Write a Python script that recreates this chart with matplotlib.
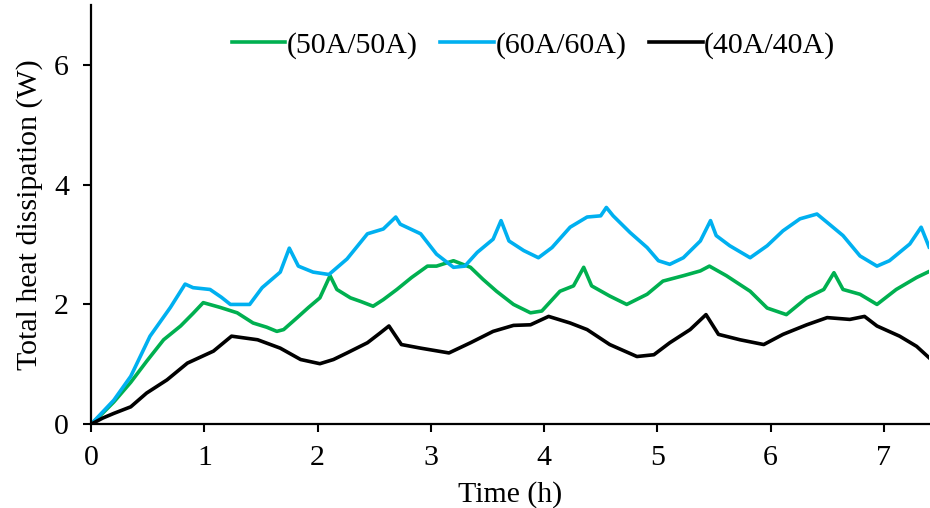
import matplotlib.pyplot as plt

# ==============================================================================
# DATA
# ==============================================================================
T_GREEN = [0, 0.1, 0.2, 0.35, 0.49, 0.64, 0.79, 0.9, 0.99, 1.14, 1.29, 1.43, 1.55,
           1.64, 1.70, 1.82, 1.92, 2.02, 2.11, 2.17, 2.29, 2.38, 2.49, 2.58, 2.70,
           2.83, 2.97, 3.05, 3.20, 3.35, 3.46, 3.58, 3.73, 3.88, 3.98, 4.14, 4.26,
           4.35, 4.42, 4.58, 4.73, 4.91, 5.05, 5.23, 5.38, 5.46, 5.61, 5.82, 5.97,
           6.14, 6.32, 6.47, 6.56, 6.64, 6.79, 6.94, 7.11, 7.29, 7.40]
V_GREEN = [0, 0.18, 0.37, 0.70, 1.05, 1.41, 1.64, 1.85, 2.03, 1.95, 1.86, 1.69, 1.62,
           1.55, 1.58, 1.78, 1.95, 2.11, 2.48, 2.25, 2.11, 2.05, 1.97, 2.08, 2.25,
           2.45, 2.64, 2.64, 2.73, 2.62, 2.42, 2.22, 2.00, 1.86, 1.89, 2.22, 2.31,
           2.62, 2.31, 2.14, 2.00, 2.17, 2.39, 2.48, 2.56, 2.64, 2.48, 2.22, 1.94,
           1.83, 2.11, 2.25, 2.53, 2.25, 2.17, 2.00, 2.25, 2.45, 2.55]

T_BLUE = [0, 0.1, 0.2, 0.35, 0.52, 0.70, 0.83, 0.9, 1.05, 1.15, 1.23, 1.40, 1.51,
          1.67, 1.75, 1.83, 1.96, 2.10, 2.26, 2.44, 2.58, 2.69, 2.73, 2.91, 3.05,
          3.20, 3.30, 3.41, 3.55, 3.62, 3.69, 3.82, 3.95, 4.07, 4.23, 4.38, 4.50,
          4.55, 4.61, 4.76, 4.91, 5.01, 5.11, 5.23, 5.38, 5.47, 5.52, 5.64, 5.82,
          5.97, 6.11, 6.26, 6.41, 6.50, 6.64, 6.79, 6.94, 7.05, 7.23, 7.33, 7.40]
V_BLUE = [0, 0.20, 0.40, 0.80, 1.47, 1.95, 2.34, 2.28, 2.25, 2.12, 2.00, 2.00, 2.28,
          2.54, 2.94, 2.64, 2.54, 2.50, 2.76, 3.18, 3.26, 3.46, 3.34, 3.18, 2.84,
          2.62, 2.64, 2.87, 3.09, 3.40, 3.06, 2.90, 2.78, 2.95, 3.29, 3.46, 3.48,
          3.62, 3.48, 3.20, 2.95, 2.73, 2.67, 2.78, 3.06, 3.40, 3.15, 2.98, 2.78,
          2.98, 3.23, 3.43, 3.51, 3.37, 3.15, 2.81, 2.64, 2.73, 3.01, 3.29, 2.96]

T_BLACK = [0, 0.1, 0.2, 0.35, 0.49, 0.67, 0.85, 1.08, 1.24, 1.47, 1.67, 1.85, 2.02,
           2.14, 2.26, 2.44, 2.55, 2.63, 2.74, 2.91, 3.16, 3.35, 3.55, 3.73, 3.88,
           4.04, 4.23, 4.38, 4.58, 4.82, 4.97, 5.11, 5.29, 5.43, 5.54, 5.73, 5.94,
           6.11, 6.32, 6.50, 6.70, 6.83, 6.94, 7.14, 7.29, 7.40]
V_BLACK = [0, 0.10, 0.18, 0.29, 0.52, 0.74, 1.02, 1.22, 1.47, 1.41, 1.27, 1.08, 1.01,
           1.08, 1.19, 1.36, 1.52, 1.64, 1.33, 1.27, 1.19, 1.36, 1.55, 1.65, 1.66,
           1.80, 1.69, 1.58, 1.33, 1.13, 1.16, 1.36, 1.58, 1.83, 1.50, 1.41, 1.33,
           1.50, 1.66, 1.78, 1.75, 1.80, 1.64, 1.47, 1.30, 1.11]

LABELS = ["(50A/50A)", "(60A/60A)", "(40A/40A)"]
COLORS = ["#00B050", "#00B0F0", "#000000"]
X_TICKS = [0, 1, 2, 3, 4, 5, 6, 7]
Y_TICKS = [0, 2, 4, 6]

plt.rcParams["font.family"] = ["Liberation Serif", "DejaVu Serif"]
FS = 21.5

fig, ax = plt.subplots(figsize=(9.3, 5.08), dpi=100)
fig.subplots_adjust(left=0.098, right=0.999, bottom=0.165, top=0.99)

for t, v, lab, col in zip([T_GREEN, T_BLUE, T_BLACK], [V_GREEN, V_BLUE, V_BLACK],
                          LABELS, COLORS):
    ax.plot(t, v, color=col, linewidth=2.6, label=lab, solid_joinstyle="round")

ax.set_xlim(0, 7.4)
ax.set_ylim(0, 7)
ax.set_xticks(X_TICKS)
ax.set_yticks(Y_TICKS)
ax.tick_params(labelsize=FS, width=1.5, length=6, direction="out")
ax.tick_params(axis="x", pad=9)
ax.tick_params(axis="y", pad=10)
ax.spines["top"].set_visible(False)
ax.spines["right"].set_visible(False)
for s in ["left", "bottom"]:
    ax.spines[s].set_linewidth(1.6)

ax.set_xlabel("Time (h)", fontsize=FS, labelpad=7)
ax.set_ylabel("Total heat dissipation (W)", fontsize=FS, labelpad=8)

ax.legend(loc="center", bbox_to_anchor=(0.528, 0.905), ncol=3, frameon=False,
          fontsize=FS, handlelength=1.8, handletextpad=0.05, columnspacing=0.75)

fig.savefig("out.png", dpi=100)
